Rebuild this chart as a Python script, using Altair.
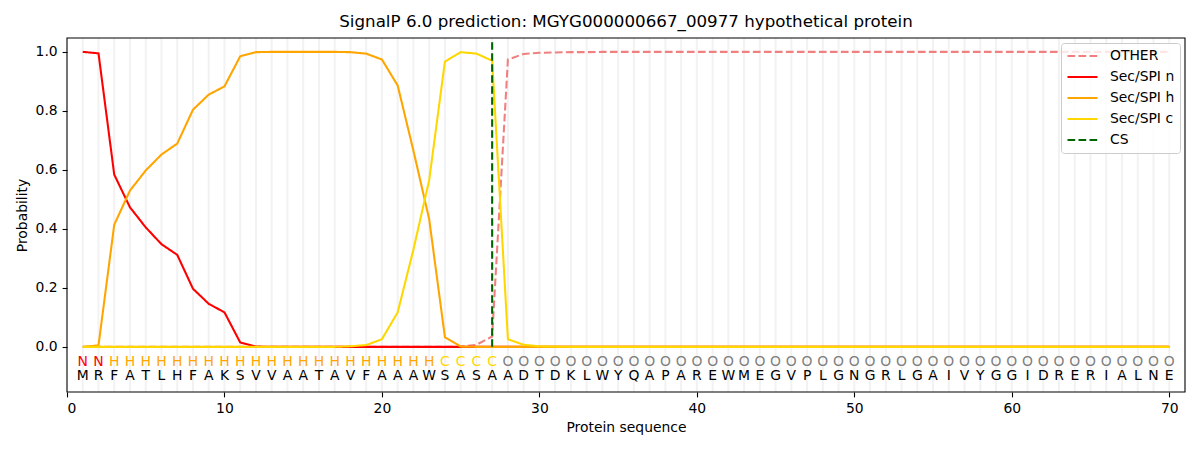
import altair as alt
import pandas as pd

TITLE = "SignalP 6.0 prediction: MGYG000000667_00977 hypothetical protein"

positions = list(range(1, 71))
residues = list("MRFATLHFAKSVVAATAVFAAAWSASAADTDKLWYQAPAREWMEGVPLGNGRLGAIVYGGIDRERIALNE")
regions = list("NNHHHHHHHHHHHHHHHHHHHHHCCCCOOOOOOOOOOOOOOOOOOOOOOOOOOOOOOOOOOOOOOOOOOO")

other = [0.0, 0.0, 0.0, 0.0, 0.0, 0.0, 0.0, 0.0, 0.0, 0.0,
         0.0, 0.0, 0.0, 0.0, 0.0, 0.0, 0.0, 0.0, 0.0, 0.0,
         0.0, 0.0, 0.0, 0.0, 0.001, 0.007, 0.035, 0.974, 0.993, 0.997,
         0.998, 0.999, 0.999, 1.0, 1.0, 1.0, 1.0, 1.0, 1.0, 1.0,
         1.0, 1.0, 1.0, 1.0, 1.0, 1.0, 1.0, 1.0, 1.0, 1.0,
         1.0, 1.0, 1.0, 1.0, 1.0, 1.0, 1.0, 1.0, 1.0, 1.0,
         1.0, 1.0, 1.0, 1.0, 1.0, 1.0, 1.0, 1.0, 1.0, 1.0]
sec_n = [1.0, 0.995, 0.584, 0.473, 0.405, 0.348, 0.312, 0.197, 0.146, 0.117,
         0.015, 0.001, 0.0, 0.0, 0.0, 0.0, 0.0, 0.0, 0.0, 0.0,
         0.0, 0.0, 0.0, 0.0, 0.0, 0.0, 0.0, 0.0, 0.0, 0.0,
         0.0, 0.0, 0.0, 0.0, 0.0, 0.0, 0.0, 0.0, 0.0, 0.0,
         0.0, 0.0, 0.0, 0.0, 0.0, 0.0, 0.0, 0.0, 0.0, 0.0,
         0.0, 0.0, 0.0, 0.0, 0.0, 0.0, 0.0, 0.0, 0.0, 0.0,
         0.0, 0.0, 0.0, 0.0, 0.0, 0.0, 0.0, 0.0, 0.0, 0.0]
sec_h = [0.0, 0.005, 0.414, 0.530, 0.598, 0.652, 0.689, 0.804, 0.855, 0.883,
         0.985, 0.999, 1.0, 1.0, 1.0, 1.0, 1.0, 0.999, 0.994, 0.974,
         0.886, 0.665, 0.433, 0.033, 0.001, 0.0, 0.0, 0.0, 0.0, 0.0,
         0.0, 0.0, 0.0, 0.0, 0.0, 0.0, 0.0, 0.0, 0.0, 0.0,
         0.0, 0.0, 0.0, 0.0, 0.0, 0.0, 0.0, 0.0, 0.0, 0.0,
         0.0, 0.0, 0.0, 0.0, 0.0, 0.0, 0.0, 0.0, 0.0, 0.0,
         0.0, 0.0, 0.0, 0.0, 0.0, 0.0, 0.0, 0.0, 0.0, 0.0]
sec_c = [0.0, 0.0, 0.0, 0.0, 0.0, 0.0, 0.0, 0.0, 0.0, 0.0,
         0.0, 0.0, 0.0, 0.0, 0.0, 0.0, 0.0, 0.002, 0.006, 0.026,
         0.117, 0.330, 0.565, 0.967, 0.999, 0.994, 0.970, 0.026, 0.007, 0.002,
         0.001, 0.0, 0.0, 0.0, 0.0, 0.0, 0.0, 0.0, 0.0, 0.0,
         0.0, 0.0, 0.0, 0.0, 0.0, 0.0, 0.0, 0.0, 0.0, 0.0,
         0.0, 0.0, 0.0, 0.0, 0.0, 0.0, 0.0, 0.0, 0.0, 0.0,
         0.0, 0.0, 0.0, 0.0, 0.0, 0.0, 0.0, 0.0, 0.0, 0.0]

cs_position = [27]
cs_low = [0.0]
cs_high = [1.037]

x_domain = [0, 71]
y_domain = [-0.153, 1.047]
x_ticks = [0, 10, 20, 30, 40, 50, 60, 70]
y_ticks = [0, 0.2, 0.4, 0.6, 0.8, 1.0]

series_names = ["OTHER", "Sec/SPI n", "Sec/SPI h", "Sec/SPI c", "CS"]
series_colors = ["#f08080", "#ff0000", "#ffa500", "#ffd700", "#006400"]
series_dashes = [[7.7, 3.3], [1, 0], [1, 0], [1, 0], [7.7, 3.3]]
region_colors = {"N": "#ff0000", "H": "#ffa500", "C": "#ffd700", "O": "#808080"}

region_label_y = -0.05
residue_label_y = -0.10

FONT = "DejaVu Sans"

rows = []
for name, vals in zip(series_names[:4], [other, sec_n, sec_h, sec_c]):
    for p, v in zip(positions, vals):
        rows.append({"pos": p, "prob": v, "series": name})
lines_df = pd.DataFrame(rows)

labels_df = pd.DataFrame({
    "pos": positions,
    "residue": residues,
    "region": regions,
    "rcolor": [region_colors[r] for r in regions],
    "ry": [region_label_y] * len(positions),
    "sy": [residue_label_y] * len(positions),
})

cs_df = pd.DataFrame({"pos": cs_position, "y": cs_low, "y2": cs_high, "series": ["CS"]})
grid_df = pd.DataFrame({"pos": positions})
frame_df = pd.DataFrame({"x": [x_domain[0]], "x2": [x_domain[1]],
                         "y": [y_domain[0]], "y2": [y_domain[1]]})

x_scale = alt.Scale(domain=x_domain, nice=False, zero=False)
y_scale = alt.Scale(domain=y_domain, nice=False, zero=False)

color_scale = alt.Scale(domain=series_names, range=series_colors)
dash_scale = alt.Scale(domain=series_names, range=series_dashes)

legend = alt.Legend(
    title=None, orient="none", legendX=994, legendY=5,
    symbolType="stroke", symbolSize=900, symbolStrokeWidth=2.08,
    labelFont=FONT, labelFontSize=13.9, labelColor="black", labelOffset=11,
    padding=5, rowPadding=5, clipHeight=16,
    strokeColor="#cccccc", fillColor="rgba(255,255,255,0.8)", cornerRadius=3,
)

x_axis = alt.Axis(values=x_ticks, title="Protein sequence", grid=False, titlePadding=5)
y_axis = alt.Axis(values=y_ticks, format=".1f", title="Probability", grid=False, titlePadding=6)

grid = alt.Chart(grid_df).mark_rule(color="#f2f2f2", strokeWidth=2).encode(
    x=alt.X("pos:Q", scale=x_scale, axis=x_axis)
)

lines = alt.Chart(lines_df).mark_line(strokeWidth=2.08).encode(
    x=alt.X("pos:Q", scale=x_scale, axis=x_axis),
    y=alt.Y("prob:Q", scale=y_scale, axis=y_axis),
    color=alt.Color("series:N", scale=color_scale, legend=legend, sort=series_names),
    strokeDash=alt.StrokeDash("series:N", scale=dash_scale, legend=legend, sort=series_names),
    order=alt.Order("pos:Q"),
)

cs_rule = alt.Chart(cs_df).mark_rule(strokeWidth=2.08).encode(
    x=alt.X("pos:Q", scale=x_scale, axis=x_axis),
    y=alt.Y("y:Q", scale=y_scale, axis=y_axis),
    y2="y2:Q",
    color=alt.Color("series:N", scale=color_scale, legend=legend, sort=series_names),
    strokeDash=alt.StrokeDash("series:N", scale=dash_scale, legend=legend, sort=series_names),
)

region_text = alt.Chart(labels_df).mark_text(
    font=FONT, fontSize=13.9, align="center", baseline="middle"
).encode(
    x=alt.X("pos:Q", scale=x_scale, axis=x_axis),
    y=alt.Y("ry:Q", scale=y_scale, axis=y_axis),
    text="region:N",
    color=alt.Color("rcolor:N", scale=None),
)

residue_text = alt.Chart(labels_df).mark_text(
    font=FONT, fontSize=13.9, align="center", baseline="middle", color="black"
).encode(
    x=alt.X("pos:Q", scale=x_scale, axis=x_axis),
    y=alt.Y("sy:Q", scale=y_scale, axis=y_axis),
    text="residue:N",
)

frame = alt.Chart(frame_df).mark_rect(
    fillOpacity=0, stroke="black", strokeWidth=1.1
).encode(
    x=alt.X("x:Q", scale=x_scale, axis=x_axis),
    x2="x2:Q",
    y=alt.Y("y:Q", scale=y_scale, axis=y_axis),
    y2="y2:Q",
)

chart = alt.layer(grid, lines, cs_rule, region_text, residue_text, frame).properties(
    width=1118, height=354,
    background="white",
    title=alt.TitleParams(TITLE, font=FONT, fontSize=16.7, fontWeight="normal",
                          color="black", anchor="middle", offset=6),
    autosize=alt.AutoSizeParams(type="none"),
    padding={"left": 59, "top": 30, "right": 7, "bottom": 50},
).configure_view(
    stroke="transparent"
).configure_axis(
    domain=False, tickColor="black", tickSize=4.9, tickWidth=1.1,
    labelFont=FONT, labelFontSize=13.9, labelColor="black", labelPadding=4.9,
    titleFont=FONT, titleFontSize=13.9, titleColor="black", titleFontWeight="normal",
)

chart.save("out.html", embed_options={"renderer": "svg", "actions": False})
